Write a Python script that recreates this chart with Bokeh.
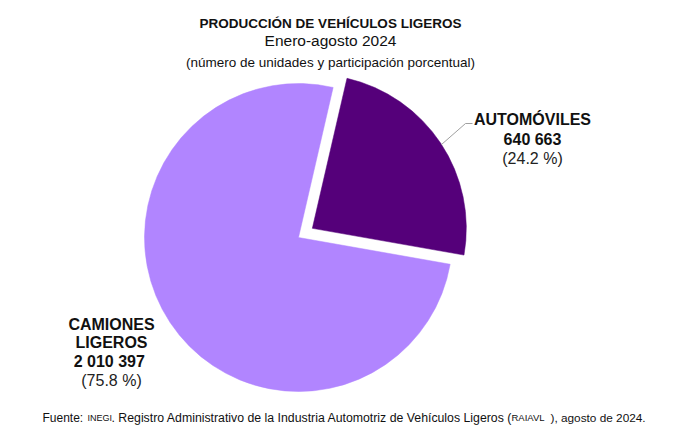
import math
from bokeh.plotting import figure
from bokeh.models import Range1d, ColumnDataSource
from bokeh.embed import file_html
from bokeh.resources import INLINE
from bokeh.core.properties import value

# ---- data ----
categories = ["CAMIONES\nLIGEROS", "AUTOMÓVILES"]
units = [2010397, 640663]
unit_labels = ["2 010  397", "640 663"]
share_labels = ["(75.8 %)", "(24.2 %)"]
colors = ["#B185FF", "#55007A"]

title = "PRODUCCIÓN DE VEHÍCULOS LIGEROS"
subtitle1 = "Enero-agosto 2024"
subtitle2 = "(número de unidades y participación porcentual)"
source_parts = ["Fuente: ", "INEGI", ". Registro Administrativo de la Industria Automotriz de Vehículos Ligeros (",
                "RAIAVL", "), agosto de 2024."]

FONT = value("Liberation Sans")
W, H = 672, 430


def Y(py):
    # image pixel row -> data y (1 data unit == 1 px)
    return H - py


p = figure(width=W, height=H, x_range=Range1d(0, W), y_range=Range1d(0, H),
           output_backend="svg", toolbar_location=None, min_border=0,
           x_axis_type=None, y_axis_type=None)
p.grid.visible = False
p.outline_line_color = None
p.background_fill_color = "white"
p.border_fill_color = "white"

# ---- pie ----
cx, cy, R = 298, Y(237), 154
explode = 16.6
total = sum(units)
spans = [2 * math.pi * u / total for u in units]
auto_end = math.radians(77)
auto_start = auto_end - spans[1]
cam_start = auto_end
cam_end = cam_start + spans[0]
mid = (auto_start + auto_end) / 2

src = ColumnDataSource(dict(
    x=[cx, cx + explode * math.cos(mid)],
    y=[cy, cy + explode * math.sin(mid)],
    start=[cam_start, auto_start],
    end=[cam_end, auto_end],
    color=colors,
))
p.wedge(x="x", y="y", radius=R, start_angle="start", end_angle="end",
        fill_color="color", line_color="color", line_width=0.5, source=src)

# ---- titles ----
p.text(x=[330], y=[Y(23)], text=[title], text_font=FONT, text_font_size="13.5px",
       text_font_style="bold", text_align="center", text_baseline="middle", text_color="#111111")
p.text(x=[330], y=[Y(40)], text=[subtitle1], text_font=FONT, text_font_size="15.5px",
       text_align="center", text_baseline="middle", text_color="#111111")
p.text(x=[330], y=[Y(62)], text=[subtitle2], text_font=FONT, text_font_size="13.5px",
       text_align="center", text_baseline="middle", text_color="#111111")

# ---- slice labels ----
cam_lines = categories[0].split("\n")
p.text(x=[111, 111, 111], y=[Y(324), Y(342), Y(361)], text=cam_lines + [unit_labels[0]],
       text_font=FONT, text_font_size="16px", text_font_style="bold",
       text_align="center", text_baseline="middle", text_color="#111111")
p.text(x=[111], y=[Y(380)], text=[share_labels[0]], text_font=FONT, text_font_size="16px",
       text_align="center", text_baseline="middle", text_color="#222222")

p.text(x=[532, 532], y=[Y(119), Y(139)], text=[categories[1], unit_labels[1]],
       text_font=FONT, text_font_size="16px", text_font_style="bold",
       text_align="center", text_baseline="middle", text_color="#111111")
p.text(x=[532], y=[Y(158)], text=[share_labels[1]], text_font=FONT, text_font_size="16px",
       text_align="center", text_baseline="middle", text_color="#222222")

# leader line
p.line(x=[472, 465, 441], y=[Y(123), Y(123), Y(144)], line_color="#A0A0A0", line_width=1)

# ---- source note ----
fx = [42, 87, 111, 511, 550]
fsize = ["12px", "9px", "12.3px", "9.5px", "11.8px"]
for xx, t, s in zip(fx, source_parts, fsize):
    p.text(x=[xx], y=[Y(417)], text=[t], text_font=FONT, text_font_size=s,
           text_align="left", text_baseline="middle", text_color="#111111")

open("out.html", "w").write(file_html(p, INLINE))
